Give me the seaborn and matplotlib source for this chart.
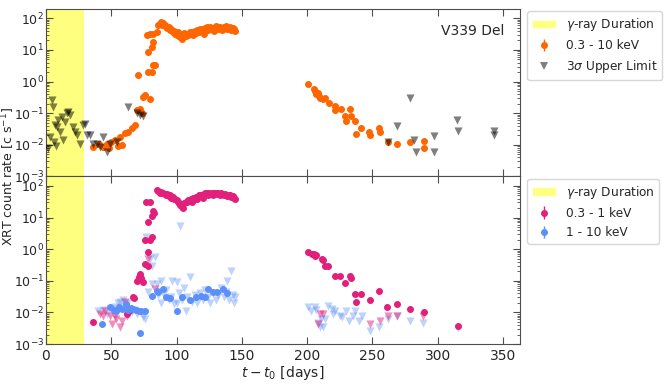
import numpy as np
import matplotlib
matplotlib.use("Agg")
import matplotlib.pyplot as plt
from matplotlib.patches import Patch
import seaborn as sns

# ---- data (days since t0, count rate c/s) ----
gamma_start, gamma_end = 0, 29

# top panel: 0.3 - 10 keV detections
full_days = [36, 41, 44, 46.5, 48, 50, 53, 55, 56.7, 58, 60.5, 63, 65.6, 68, 69.4, 72, 73.3,
             74.5, 75.8, 79.6, 70.7, 78.3, 80.9, 82.2, 83.5, 78.3, 80.9, 82.2, 77.1, 79.6,
             82.2, 84.7, 86, 87.3,
             88, 89, 90, 91, 92, 93, 94, 95, 96, 97, 98, 99, 100, 101, 102, 103, 104, 105,
             106, 107, 108, 109, 110, 111, 112, 113, 114, 115, 116, 117, 118, 119, 120, 121,
             122, 123, 124, 125, 126, 127, 128, 129, 130, 131, 132, 133, 134, 135, 136, 137,
             138, 139, 140, 141, 142, 143, 144, 145,
             201, 205, 206, 206.5, 207, 208, 209, 210, 212, 214, 217, 221, 221.5, 225.6, 229,
             229.5, 233, 233.5, 237, 237.5, 241, 247.6, 248, 255, 255.5, 262, 269, 278.7,
             289.4, 289.6]
full_rate = [0.0087, 0.011, 0.0087, 0.011, 0.008, 0.0126, 0.014, 0.009, 0.018, 0.01, 0.023,
             0.026, 0.033, 0.042, 0.126, 0.14, 0.1, 0.33, 0.37, 0.29, 1.6, 2.0, 2.0, 3.3, 3.3,
             8.7, 12.6, 18, 29, 32, 32, 37, 60, 68,
             75, 62, 70, 60, 55, 48, 52, 42, 45, 38, 40, 33, 30, 36, 28, 25, 22, 30,
             35, 27, 33, 30, 38, 32, 36, 30, 40, 35, 42, 38, 47, 40, 45, 33,
             50, 55, 42, 48, 52, 45, 50, 40, 58, 52, 47, 55, 50, 44, 52, 48,
             56, 45, 50, 53, 42, 48, 45, 40,
             0.83, 0.6, 0.5, 0.45, 0.4, 0.43, 0.35, 0.3, 0.29, 0.3, 0.21, 0.17, 0.13, 0.14, 0.08,
             0.056, 0.14, 0.08, 0.056, 0.022, 0.035, 0.025, 0.02, 0.035, 0.025, 0.012, 0.0105,
             0.0126, 0.0135, 0.008]

# top panel: 3 sigma upper limits
ul_days = [1.8, 3.1, 4.3, 5.6, 6.5, 6.9, 7.5, 8.2, 9.4, 10.7, 12, 13.2, 14.5, 15.8, 17.1, 18.4,
           20.9, 22.2, 23.5, 26, 28.6, 29.8, 31.1, 33.7, 36.3, 38.8, 41.4, 43.9, 46.5, 49.1,
           54.2, 63.1, 69.4, 72, 74.5,
           262, 269, 278.7, 282, 283.3, 297, 297.2, 315, 315.2, 343, 343.2]
ul_rate = [0.0078, 0.018, 0.26, 0.16, 0.0126, 0.042, 0.009, 0.037, 0.06, 0.026, 0.078, 0.014,
           0.054, 0.1, 0.11, 0.087, 0.037, 0.026, 0.02, 0.011, 0.042, 0.047, 0.02, 0.02, 0.011,
           0.011, 0.0087, 0.018, 0.006, 0.011, 0.0126, 0.16, 0.1, 0.087, 0.079,
           0.0126, 0.039, 0.3, 0.014, 0.006, 0.019, 0.006, 0.063, 0.028, 0.028, 0.02]

# bottom panel: 0.3 - 1 keV detections
soft_days = [35.7, 61.8, 63.8, 66.8, 67.5, 70, 71, 72, 73, 74, 76, 78, 75.8, 78.3, 78.3, 80, 81,
             81, 82, 83, 77, 79.6, 84.8,
             86, 87, 88, 89, 90, 91, 92, 93, 94, 95, 96, 97, 98, 99, 100, 101, 102, 103, 104,
             105, 106, 107, 108, 109, 110, 111, 112, 113, 114, 115, 116, 117, 118, 119, 120,
             121, 122, 123, 124, 125, 126, 127, 128, 129, 130, 131, 132, 133, 134, 135, 136,
             137, 138, 139, 140, 141, 142, 143, 144, 145,
             201, 204, 205, 206, 207, 211.5, 212, 213.5, 216, 221, 225, 229, 233, 233.5, 237,
             237.5, 241, 248, 255, 261, 269, 278.7, 289.4, 315.7]
soft_rate = [0.0049, 0.009, 0.011, 0.03, 0.029, 0.1, 0.13, 0.16, 0.12, 0.09, 0.33, 0.3, 1.9,
             0.8, 7, 2.0, 2.5, 11.5, 16, 14, 31, 31, 72,
             68, 62, 65, 58, 60, 55, 52, 56, 48, 50, 42, 45, 38, 40, 35, 30, 28, 25, 22,
             20, 28, 32, 30, 35, 33, 38, 32, 42, 38, 45, 40, 50, 48, 52, 42,
             55, 60, 58, 52, 62, 55, 58, 50, 62, 58, 55, 60, 52, 58, 55, 50,
             55, 52, 48, 52, 50, 45, 48, 42, 40,
             0.8, 0.7, 0.72, 0.6, 0.68, 0.5, 0.45, 0.3, 0.3, 0.14, 0.14, 0.085, 0.14, 0.12,
             0.038, 0.022, 0.038, 0.025, 0.046, 0.015, 0.019, 0.013, 0.0107, 0.0038]

soft_ul_days = [41.3, 43.9, 45, 49, 50.3, 53, 54, 56.7, 58, 60.5, 61.8, 78.3, 83.5,
                208.5, 209.8, 212.4, 248, 255.7, 262, 268.5, 289]
soft_ul_rate = [0.009, 0.008, 0.011, 0.008, 0.0043, 0.008, 0.0063, 0.0034, 0.0055, 0.021,
                0.008, 0.5, 0.055,
                0.0043, 0.009, 0.009, 0.0043, 0.0055, 0.0076, 0.0076, 0.0076]

# bottom panel: 1 - 10 keV detections
hard_days = [42.6, 49, 52, 54, 56, 58, 61, 63, 65, 67, 69, 71, 73, 72, 76, 80.9, 84.7, 86,
             89.8, 92, 95, 100, 104, 110, 115, 119, 122, 124, 128, 131, 135.7, 139]
hard_rate = [0.0043, 0.0145, 0.012, 0.011, 0.015, 0.013, 0.018, 0.012, 0.014, 0.013, 0.012,
             0.011, 0.011, 0.0022, 0.011, 0.034, 0.049, 0.045, 0.055, 0.03, 0.028, 0.011,
             0.03, 0.025, 0.03, 0.034, 0.03, 0.055, 0.045, 0.045, 0.055, 0.04]

hard_ul_days = [40, 44, 47, 50, 53, 55, 57, 59, 60, 62, 64, 66, 68, 70, 74, 76, 77, 78, 79.6,
                81, 81.5, 83.5, 85, 86, 88, 88.5, 90, 92, 94, 96, 96.5, 98, 100, 100.5, 102,
                102.6, 104, 106, 107, 108, 110, 112, 114, 116, 118, 120, 122, 124, 126, 128,
                130, 132, 134, 136, 138, 139, 140, 142, 143, 144, 145,
                201, 203, 206, 206.5, 208.5, 209.8, 211, 212.4, 214, 216, 219, 220, 221.5,
                225, 227, 230, 232, 235, 237, 240, 242, 248, 255, 262, 269, 278.7, 289,
                315.7]
hard_ul_rate = [0.011, 0.012, 0.009, 0.013, 0.015, 0.02, 0.022, 0.025, 0.016, 0.02, 0.013,
                0.01, 0.012, 0.009, 0.007, 0.006, 2.5, 0.045, 0.5, 0.3, 0.08, 0.55, 0.08,
                0.035, 0.02, 0.1, 0.04, 0.05, 0.025, 0.03, 0.1, 0.018, 0.02, 0.09, 0.04,
                5.3, 0.025, 0.06, 0.011, 0.03, 0.13, 0.022, 0.035, 0.02, 0.04, 0.025, 0.05,
                0.03, 0.02, 0.04, 0.025, 0.035, 0.06, 0.03, 0.045, 0.1, 0.025, 0.21, 0.035,
                0.02, 0.03,
                0.0145, 0.011, 0.0145, 0.012, 0.0045, 0.0034, 0.0063, 0.0034, 0.006, 0.016,
                0.013, 0.009, 0.011, 0.008, 0.007, 0.011, 0.0055, 0.008, 0.011, 0.0055, 0.008,
                0.0026, 0.0035, 0.0063, 0.0076, 0.0055, 0.0047, 0.0032]

rel_err = 0.15

# ---- style ----
sns.set_style("ticks")
plt.rcParams["font.family"] = ["DejaVu Sans"]
plt.rcParams["mathtext.fontset"] = "dejavusans"

c_full = "#ff6600"
c_soft = "#e0207a"
c_hard = "#5b8ff9"

fig, (ax1, ax2) = plt.subplots(2, 1, figsize=(6.65, 3.84), dpi=100, sharex=True)
fig.subplots_adjust(left=0.069, right=0.782, top=0.977, bottom=0.104, hspace=0)


def draw_points(ax, days, rate, color, label):
    rate = np.asarray(rate)
    return ax.errorbar(days, rate, yerr=rate * rel_err, fmt="o", ms=4, color=color,
                       ecolor=color, elinewidth=1, capsize=0, label=label, zorder=3)


# top panel
ax1.axvspan(gamma_start, gamma_end, color="yellow", alpha=0.5, lw=0, zorder=0)
eb_full = draw_points(ax1, full_days, full_rate, c_full, "0.3 - 10 keV")
sns.scatterplot(x=ul_days, y=ul_rate, marker="v", s=34, color="black", alpha=0.5,
                linewidth=0, ax=ax1, zorder=4, legend=False)
ax1.text(0.966, 0.87, "V339 Del", transform=ax1.transAxes, ha="right", va="center",
         fontsize=10)

h_gamma = Patch(facecolor="yellow", alpha=0.5)
h_ul = plt.Line2D([], [], marker="v", ls="", ms=6, color="black", alpha=0.5,
                  markeredgewidth=0)
ax1.legend([h_gamma, eb_full, h_ul],
           [r"$\gamma$-ray Duration", "0.3 - 10 keV", r"3$\sigma$ Upper Limit"],
           loc="upper left", bbox_to_anchor=(1.01, 1.0), borderaxespad=0.2, fontsize=8.7)

# bottom panel
ax2.axvspan(gamma_start, gamma_end, color="yellow", alpha=0.5, lw=0, zorder=0)
sns.scatterplot(x=hard_ul_days, y=hard_ul_rate, marker="v", s=34, color=c_hard, alpha=0.4,
                linewidth=0, ax=ax2, zorder=2, legend=False)
sns.scatterplot(x=soft_ul_days, y=soft_ul_rate, marker="v", s=34, color=c_soft, alpha=0.5,
                linewidth=0, ax=ax2, zorder=2, legend=False)
eb_soft = draw_points(ax2, soft_days, soft_rate, c_soft, "0.3 - 1 keV")
eb_hard = draw_points(ax2, hard_days, hard_rate, c_hard, "1 - 10 keV")
ax2.legend([h_gamma, eb_soft, eb_hard],
           [r"$\gamma$-ray Duration", "0.3 - 1 keV", "1 - 10 keV"],
           loc="upper left", bbox_to_anchor=(1.01, 1.0), borderaxespad=0.2, fontsize=8.7)

for ax in (ax1, ax2):
    ax.set_yscale("log")
    ax.set_ylim(1e-3, 2e2)
    ax.set_xlim(0, 363)
    ax.set_xticks([0, 50, 100, 150, 200, 250, 300, 350])
    ax.tick_params(which="both", direction="in", top=True, right=True, labelsize=10,
                   color="0.3")
    ax.tick_params(axis="y", pad=1.5, labelsize=9)
    ax.tick_params(which="major", length=5)
    ax.tick_params(which="minor", length=2.5)
    for sp in ax.spines.values():
        sp.set_color("0.3")

ax2.set_xlabel(r"$t - t_0$ [days]", fontsize=10, labelpad=0.5)
fig.text(0.012, 0.54, r"XRT count rate [c s$^{-1}$]", rotation=90, ha="center",
         va="center", fontsize=9)

fig.savefig("out.png", dpi=100)
